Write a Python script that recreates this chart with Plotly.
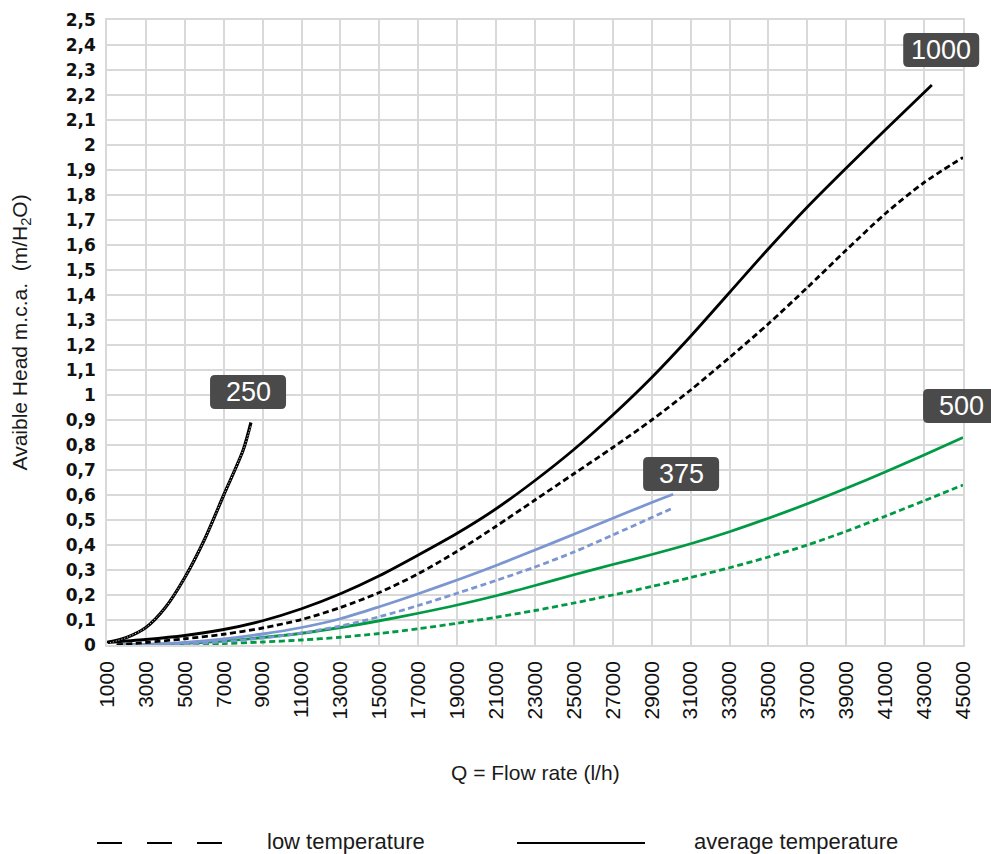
import plotly.graph_objects as go

# ---------------- data ----------------
q_250 = [1000, 2000, 3000, 4000, 5000, 6000, 7000, 8000, 8400]
avg_250 = [0.01, 0.03, 0.07, 0.15, 0.27, 0.42, 0.60, 0.78, 0.89]
low_250 = [0.005, 0.03, 0.07, 0.15, 0.27, 0.42, 0.60, 0.78, 0.88]

q_avg_1000 = [1000, 3000, 5000, 7000, 9000, 11000, 13000, 15000, 17000, 19000, 21000,
              23000, 25000, 27000, 29000, 31000, 33000, 35000, 37000, 39000, 41000, 43400]
avg_1000 = [0.01, 0.022, 0.038, 0.062, 0.097, 0.145, 0.205, 0.277, 0.36, 0.447, 0.545,
            0.658, 0.782, 0.92, 1.07, 1.235, 1.41, 1.585, 1.752, 1.908, 2.06, 2.24]

q_low_1000 = [1500, 3000, 5000, 7000, 9000, 11000, 13000, 15000, 17000, 19000, 21000,
              23000, 25000, 27000, 29000, 31000, 33000, 35000, 37000, 39000, 41000, 43000, 45000]
low_1000 = [0.0, 0.01, 0.025, 0.043, 0.068, 0.102, 0.15, 0.21, 0.285, 0.375, 0.475,
            0.58, 0.685, 0.79, 0.90, 1.02, 1.15, 1.285, 1.43, 1.58, 1.725, 1.85, 1.95]

q_avg_375 = [1500, 3000, 5000, 7000, 9000, 11000, 13000, 15000, 17000, 19000, 21000,
             23000, 25000, 27000, 29000, 30100]
avg_375 = [0.0, 0.002, 0.01, 0.024, 0.044, 0.07, 0.105, 0.153, 0.205, 0.26, 0.318,
           0.38, 0.443, 0.507, 0.57, 0.603]

q_low_375 = [2000, 5000, 7000, 9000, 11000, 13000, 15000, 17000, 19000, 21000,
             23000, 25000, 27000, 29000, 30150]
low_375 = [0.0, 0.004, 0.013, 0.028, 0.048, 0.076, 0.113, 0.158, 0.207, 0.258,
           0.312, 0.372, 0.44, 0.51, 0.55]

q_avg_500 = [1500, 3000, 5000, 7000, 9000, 11000, 13000, 15000, 17000, 19000, 21000,
             23000, 25000, 27000, 29000, 31000, 33000, 35000, 37000, 39000, 41000, 43000, 45000]
avg_500 = [0.0, 0.002, 0.007, 0.016, 0.03, 0.047, 0.07, 0.097, 0.127, 0.16, 0.197,
           0.238, 0.281, 0.322, 0.362, 0.405, 0.453, 0.507, 0.565, 0.627, 0.692, 0.76, 0.83]

q_low_500 = [3000, 5000, 7000, 9000, 11000, 13000, 15000, 17000, 19000, 21000,
             23000, 25000, 27000, 29000, 31000, 33000, 35000, 37000, 39000, 41000, 43000, 45000]
low_500 = [0.0, 0.002, 0.006, 0.012, 0.02, 0.031, 0.046, 0.065, 0.087, 0.111,
           0.138, 0.168, 0.20, 0.234, 0.27, 0.309, 0.352, 0.40, 0.455, 0.515, 0.577, 0.64]

x_tick_vals = [1000, 3000, 5000, 7000, 9000, 11000, 13000, 15000, 17000, 19000, 21000, 23000,
               25000, 27000, 29000, 31000, 33000, 35000, 37000, 39000, 41000, 43000, 45000]
x_tick_labels = ["1000", "3000", "5000", "7000", "9000", "11000", "13000", "15000", "17000",
                 "19000", "21000", "23000", "25000", "27000", "29000", "31000", "33000",
                 "35000", "37000", "39000", "41000", "43000", "45000"]
y_tick_vals = [0, 0.1, 0.2, 0.3, 0.4, 0.5, 0.6, 0.7, 0.8, 0.9, 1.0, 1.1, 1.2, 1.3, 1.4,
               1.5, 1.6, 1.7, 1.8, 1.9, 2.0, 2.1, 2.2, 2.3, 2.4, 2.5]
y_tick_labels = ["0", "0,1", "0,2", "0,3", "0,4", "0,5", "0,6", "0,7", "0,8", "0,9", "1",
                 "1,1", "1,2", "1,3", "1,4", "1,5", "1,6", "1,7", "1,8", "1,9", "2",
                 "2,1", "2,2", "2,3", "2,4", "2,5"]

label_names = ["250", "1000", "375", "500"]
label_q = [8250, 43880, 30510, 44900]
label_h = [1.012, 2.38, 0.684, 0.956]

legend_names = ["low temperature", "average temperature"]

# ---------------- styling ----------------
W, H = 991, 854
ML, MR, MT, MB = 107, 28, 20, 209
PW, PH = W - ML - MR, H - MT - MB
X_RANGE = [1000, 45000]
Y_RANGE = [0, 2.5]

BLACK = "#000000"
BLUE = "#7b96d1"
GREEN = "#009a44"
DASH = "6px,3.5px"
FONT = "Liberation Sans, Arial, sans-serif"
BOX = "#4a4a4a"
LW = 2.8


def px_x(px):
    return (px - ML) / PW


def px_y(py):
    return (H - MB - py) / PH


fig = go.Figure()


def add(x, y, color, width, dash=None):
    fig.add_trace(go.Scatter(
        x=x, y=y, mode="lines",
        line=dict(color=color, width=width, dash=dash, shape="spline", smoothing=0.8),
        showlegend=False, hoverinfo="skip"))


add(q_low_500, low_500, GREEN, LW, DASH)
add(q_avg_500, avg_500, GREEN, LW)
add(q_low_375, low_375, BLUE, LW, DASH)
add(q_avg_375, avg_375, BLUE, LW)
add(q_low_1000, low_1000, BLACK, LW, DASH)
add(q_avg_1000, avg_1000, BLACK, LW)
add(q_250, avg_250, BLACK, 3.2)
add(q_250, low_250, "white", 1.0, "1px,2px")

# rounded label boxes (pixel-sized, anchored at the label's position)
bw, bh, r = 38, 17, 5
box_path = (f"M {-bw + r},{-bh} L {bw - r},{-bh} Q {bw},{-bh} {bw},{-bh + r} "
            f"L {bw},{bh - r} Q {bw},{bh} {bw - r},{bh} L {-bw + r},{bh} "
            f"Q {-bw},{bh} {-bw},{bh - r} L {-bw},{-bh + r} Q {-bw},{-bh} {-bw + r},{-bh} Z")
for name, qx, hy in zip(label_names, label_q, label_h):
    ax = (qx - X_RANGE[0]) / (X_RANGE[1] - X_RANGE[0])
    ay = (hy - Y_RANGE[0]) / (Y_RANGE[1] - Y_RANGE[0])
    fig.add_shape(type="path", xref="paper", yref="paper", xsizemode="pixel", ysizemode="pixel",
                  xanchor=ax, yanchor=ay, path=box_path,
                  fillcolor=BOX, line=dict(width=0), layer="above")
    fig.add_annotation(
        x=qx, y=hy, xref="x", yref="y", text=name, showarrow=False,
        font=dict(family=FONT, size=27, color="white"),
        xanchor="center", yanchor="middle")

# axis titles
fig.add_annotation(
    xref="paper", yref="paper", x=0, y=0.5, xshift=-87, textangle=-90,
    text="Avaible Head m.c.a.  (m/H<sub>2</sub>O)", showarrow=False,
    font=dict(family=FONT, size=21, color="#1a1a1a"),
    xanchor="center", yanchor="middle")
fig.add_annotation(
    xref="paper", yref="paper", x=0.5, y=0, yshift=-127,
    text="Q = Flow rate (l/h)", showarrow=False,
    font=dict(family=FONT, size=21, color="#1a1a1a"),
    xanchor="center", yanchor="middle")

# custom legend
ly = px_y(841)
fig.add_shape(type="line", xref="paper", yref="paper", x0=px_x(97), x1=px_x(222),
              y0=px_y(843), y1=px_y(843), line=dict(color=BLACK, width=2, dash="25px,25px"))
fig.add_shape(type="line", xref="paper", yref="paper", x0=px_x(517), x1=px_x(645),
              y0=px_y(843), y1=px_y(843), line=dict(color=BLACK, width=2))
fig.add_annotation(xref="paper", yref="paper", x=px_x(265), y=ly, text=legend_names[0],
                   showarrow=False, xanchor="left", yanchor="middle",
                   font=dict(family=FONT, size=22, color="#1a1a1a"))
fig.add_annotation(xref="paper", yref="paper", x=px_x(692), y=ly, text=legend_names[1],
                   showarrow=False, xanchor="left", yanchor="middle",
                   font=dict(family=FONT, size=22, color="#1a1a1a"))

GRID = "#d9d9d9"
fig.update_layout(
    width=W, height=H,
    margin=dict(l=ML, r=MR, t=MT, b=MB, autoexpand=False),
    paper_bgcolor="white", plot_bgcolor="white",
    font=dict(family=FONT, color="#1a1a1a"),
    showlegend=False,
    xaxis=dict(range=X_RANGE, tickvals=x_tick_vals, ticktext=x_tick_labels,
               tickangle=-90, tickfont=dict(family=FONT, size=21, color="#111111"),
               showgrid=True, gridcolor=GRID, gridwidth=1.5, zeroline=False,
               showline=True, linecolor=GRID, linewidth=1.5, mirror=True, ticks="",
               ticklabelstandoff=6),
    yaxis=dict(range=Y_RANGE, tickvals=y_tick_vals, ticktext=y_tick_labels,
               tickfont=dict(family="DejaVu Sans, sans-serif", size=17, color="#111111",
                             weight="bold"),
               showgrid=True, gridcolor=GRID, gridwidth=1.5, zeroline=False,
               showline=True, linecolor=GRID, linewidth=1.5, mirror=True, ticks="",
               ticklabelstandoff=6),
)

fig.write_html("out.html", config={"displayModeBar": False},
               post_script="document.body.style.margin='0';")
